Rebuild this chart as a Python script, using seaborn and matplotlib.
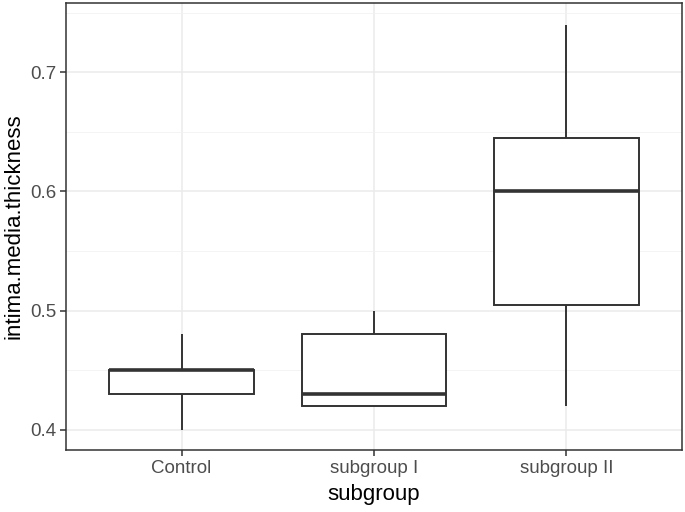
import numpy as np
import pandas as pd
import matplotlib
matplotlib.use("Agg")
import matplotlib.pyplot as plt
import seaborn as sns
from matplotlib.ticker import MultipleLocator

# values (min, Q1, median, Q3, max per group)
control = [0.40, 0.43, 0.45, 0.45, 0.48]
subgroup_1 = [0.42, 0.42, 0.43, 0.48, 0.50]
subgroup_2 = [0.42, 0.505, 0.60, 0.645, 0.74]
groups = ["Control", "subgroup I", "subgroup II"]

data = pd.DataFrame({
    "subgroup": np.repeat(groups, 5),
    "intima.media.thickness": control + subgroup_1 + subgroup_2,
})

sns.set_style("white")
plt.rcParams["font.family"] = ["Liberation Sans", "DejaVu Sans"]

fig = plt.figure(figsize=(6.85, 5.12), dpi=100)
ax = fig.add_axes([0.0964, 0.121, 0.8992, 0.873])

line = "#333333"
sns.boxplot(data=data, x="subgroup", y="intima.media.thickness", order=groups,
            whis=(0, 100), width=0.75, color="white", linecolor=line,
            linewidth=1.4, showfliers=False, showcaps=False,
            medianprops=dict(color=line, linewidth=2.6), ax=ax)

ax.set_xlim(-0.6, 2.6)
ax.set_ylim(0.383, 0.758)
ax.yaxis.set_minor_locator(MultipleLocator(0.05))
ax.set_yticks([0.4, 0.5, 0.6, 0.7])
ax.set_yticklabels(["0.4", "0.5", "0.6", "0.7"])

ax.set_axisbelow(True)
ax.grid(which="major", color="#EBEBEB", linewidth=1.1)
ax.grid(which="minor", axis="y", color="#F2F2F2", linewidth=0.6)
for s in ax.spines.values():
    s.set_color(line)
    s.set_linewidth(1.1)

ax.tick_params(axis="both", which="major", length=4, width=1.1, color=line,
               labelcolor="#4D4D4D", labelsize=13.5, pad=3, left=True, bottom=True)
ax.tick_params(axis="y", which="minor", length=0)
ax.set_xlabel("subgroup", fontsize=16, color="black", labelpad=5)
ax.set_ylabel("intima.media.thickness", fontsize=16, color="black", labelpad=4)

fig.savefig("out.png", dpi=100)
